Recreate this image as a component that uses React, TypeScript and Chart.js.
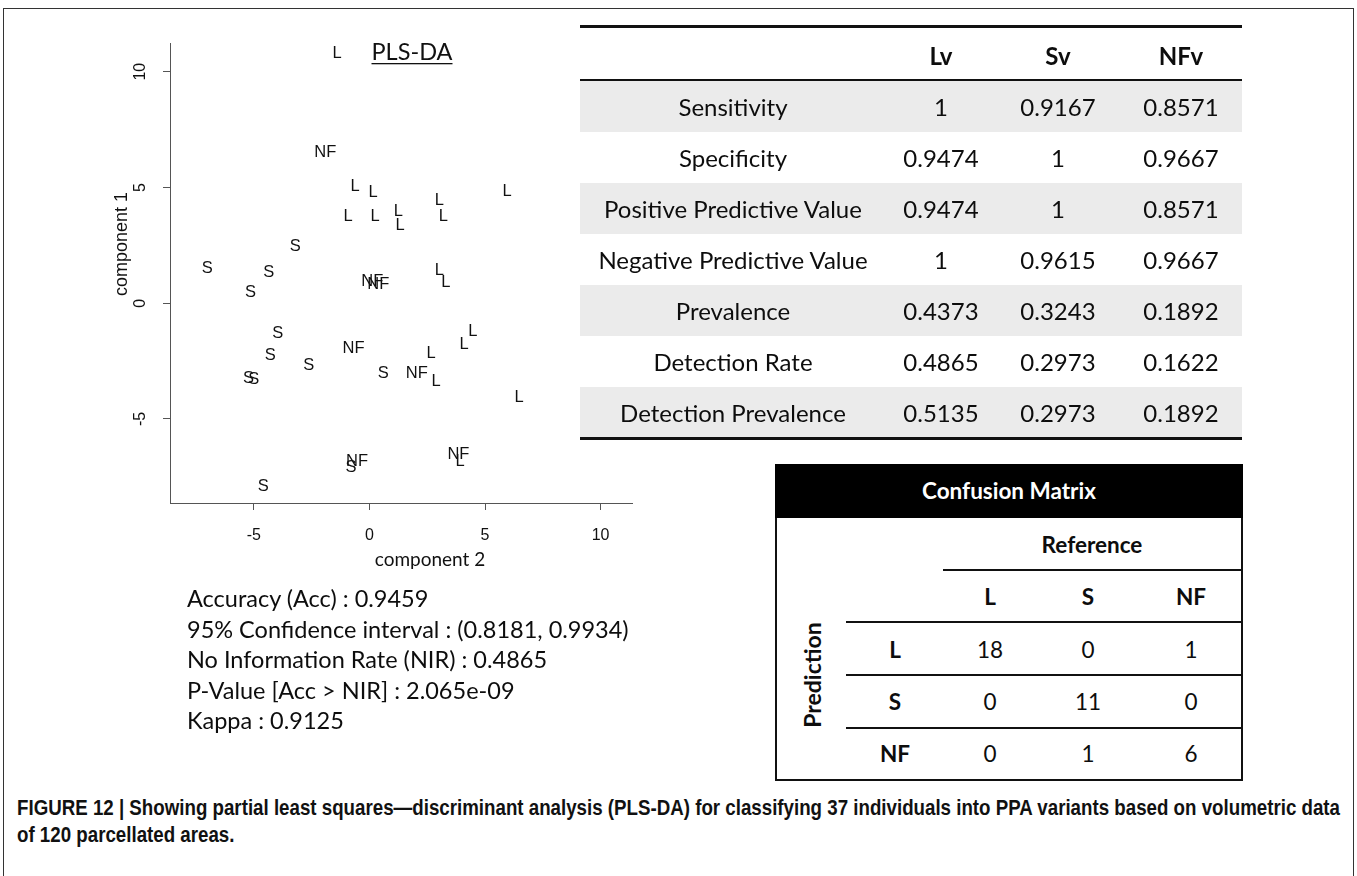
import React, { useEffect, useRef } from "react";
import { Chart, registerables } from "chart.js";

Chart.register(...registerables);

// ---------- scatter data (x = component 2, y = component 1) ----------
const lX = [-1.4, -0.62, 0.16, -0.92, 0.24, 1.25, 1.33, 3.02, 3.2, 5.96, 3.02, 3.31, 2.88, 2.67, 4.09, 4.47, 6.47, 3.92];
const lY = [10.78, 5.06, 4.77, 3.73, 3.73, 3.95, 3.38, 4.45, 3.76, 4.81, 1.43, 0.89, -3.38, -2.18, -1.8, -1.22, -4.07, -6.83];
const sX = [-3.21, -7.02, -4.36, -5.15, -3.97, -4.29, -2.63, -5.23, -5.01, 0.6, -0.8, -4.6];
const sY = [2.47, 1.51, 1.32, 0.46, -1.29, -2.27, -2.7, -3.23, -3.28, -3.02, -7.11, -7.93];
const nfX = [-1.91, 0.12, 0.38, -0.69, 2.05, -0.54, 3.85];
const nfY = [6.53, 0.92, 0.79, -1.97, -3.05, -6.83, -6.54];
const groupLabels = ["L", "S", "NF"];
const xTicks = [-5, 0, 5, 10];
const yTicks = [-5, 0, 5, 10];

// ---------- metrics table ----------
const metricNames = [
  "Sensitivity",
  "Specificity",
  "Positive Predictive Value",
  "Negative Predictive Value",
  "Prevalence",
  "Detection Rate",
  "Detection Prevalence",
];
const metricHeaders = ["Lv", "Sv", "NFv"];
const lvValues = ["1", "0.9474", "0.9474", "1", "0.4373", "0.4865", "0.5135"];
const svValues = ["0.9167", "1", "1", "0.9615", "0.3243", "0.2973", "0.2973"];
const nfvValues = ["0.8571", "0.9667", "0.8571", "0.9667", "0.1892", "0.1622", "0.1892"];

// ---------- confusion matrix ----------
const cmClasses = ["L", "S", "NF"];
const cmRowL = [18, 0, 1];
const cmRowS = [0, 11, 0];
const cmRowNF = [0, 1, 6];

// ---------- stats ----------
const statsLines = [
  "Accuracy (Acc) : 0.9459",
  "95% Confidence interval : (0.8181, 0.9934)",
  "No Information Rate (NIR) : 0.4865",
  "P-Value [Acc > NIR] : 2.065e-09",
  "Kappa : 0.9125",
];
const captionLines = [
  "FIGURE 12 | Showing partial least squares\u2014discriminant analysis (PLS-DA) for classifying 37 individuals into PPA variants based on volumetric data",
  "of 120 parcellated areas.",
];

const LATO = "Lato, 'Open Sans', sans-serif";
const ARIAL = "'Liberation Sans', Arial, sans-serif";

const overlayPlugin = {
  id: "overlay",
  afterDatasetsDraw(chart: any) {
    const ctx = chart.ctx;
    ctx.save();
    ctx.fillStyle = "#111";
    ctx.textAlign = "center";
    ctx.textBaseline = "middle";
    ctx.font = `16.5px ${ARIAL}`;
    chart.data.datasets.forEach((ds: any, i: number) => {
      const meta = chart.getDatasetMeta(i);
      meta.data.forEach((pt: any) => ctx.fillText(ds.label, pt.x, pt.y));
    });
    // rotated y tick labels
    const ys = chart.scales.y;
    const left = chart.chartArea.left;
    ctx.font = `16px ${ARIAL}`;
    yTicks.forEach((v) => {
      const py = ys.getPixelForValue(v);
      ctx.save();
      ctx.translate(left - 29, py);
      ctx.rotate(-Math.PI / 2);
      ctx.fillText(String(v), 0, 0);
      ctx.restore();
    });
    // y axis title
    ctx.save();
    ctx.font = `18px ${ARIAL}`;
    ctx.translate(left - 48, 244);
    ctx.rotate(-Math.PI / 2);
    ctx.fillText("component 1", 0, 0);
    ctx.restore();
    // x axis title
    ctx.font = `19px ${LATO}`;
    ctx.fillText("component 2", 430, 560);
    // plot title (underlined)
    ctx.font = `23.5px ${LATO}`;
    ctx.fillText("PLS-DA", 412, 52);
    const w = ctx.measureText("PLS-DA").width;
    ctx.fillRect(412 - w / 2, 63, w, 1.3);
    ctx.restore();
  },
};

const Txt = ({ x, y, text, size = 24, bold = false, align = "center", color = "#0d0d0d", family = LATO }: any) => {
  const w = 500;
  const left = align === "center" ? x - w / 2 : x;
  return (
    <div
      style={{
        position: "absolute",
        left,
        top: y - 20,
        width: w,
        height: 40,
        lineHeight: "40px",
        textAlign: align,
        fontFamily: family,
        fontSize: size,
        fontWeight: bold ? 700 : 400,
        color,
        whiteSpace: "nowrap",
      }}
    >
      {text}
    </div>
  );
};

const Rect = ({ x, y, w, h, c }: any) => (
  <div style={{ position: "absolute", left: x, top: y, width: w, height: h, background: c }} />
);

export default function App() {
  const canvasRef = useRef<HTMLCanvasElement>(null);
  const capRef = useRef<HTMLDivElement>(null);
  const cap1Ref = useRef<HTMLSpanElement>(null);

  useEffect(() => {
    const canvas = canvasRef.current;
    if (!canvas) return;
    const chart = new Chart(canvas, {
      type: "scatter",
      data: {
        datasets: [
          { label: groupLabels[0], data: lX.map((x, i) => ({ x, y: lY[i] })), pointRadius: 0, pointHoverRadius: 0 },
          { label: groupLabels[1], data: sX.map((x, i) => ({ x, y: sY[i] })), pointRadius: 0, pointHoverRadius: 0 },
          { label: groupLabels[2], data: nfX.map((x, i) => ({ x, y: nfY[i] })), pointRadius: 0, pointHoverRadius: 0 },
        ],
      },
      options: {
        responsive: false,
        animation: false,
        events: [],
        layout: { padding: { left: 110, top: 43, right: 68, bottom: 37 } },
        plugins: { legend: { display: false }, tooltip: { enabled: false }, title: { display: false } },
        scales: {
          x: {
            type: "linear",
            position: "bottom",
            min: -8.63,
            max: 11.36,
            afterBuildTicks: (s: any) => {
              s.ticks = xTicks.map((v) => ({ value: v }));
            },
            afterFit: (s: any) => {
              s.height = 40;
            },
            grid: { drawOnChartArea: false, drawTicks: true, tickLength: 7, color: "#555", lineWidth: 1 },
            border: { display: true, color: "#555", width: 1 },
            ticks: {
              font: { family: ARIAL, size: 16 },
              color: "#111",
              padding: 16,
              maxRotation: 0,
              autoSkip: false,
              callback: (v: any) => String(v),
            },
          },
          y: {
            type: "linear",
            position: "left",
            min: -8.63,
            max: 11.24,
            afterBuildTicks: (s: any) => {
              s.ticks = yTicks.map((v) => ({ value: v }));
            },
            afterFit: (s: any) => {
              s.width = 60;
            },
            grid: { drawOnChartArea: false, drawTicks: true, tickLength: 7, color: "#555", lineWidth: 1 },
            border: { display: true, color: "#555", width: 1 },
            ticks: { display: false },
          },
        },
      } as any,
      plugins: [overlayPlugin],
    });
    // fit caption width
    if (capRef.current && cap1Ref.current) {
      const w = cap1Ref.current.getBoundingClientRect().width;
      if (w > 0) capRef.current.style.transform = `scaleX(${1323 / w})`;
    }
    return () => chart.destroy();
  }, []);

  // metrics table geometry
  const rowTop = 81;
  const rowH = 51;
  const colX = [733, 941, 1058, 1181];
  const valueCols = [lvValues, svValues, nfvValues];

  const cmColX = [990, 1088, 1191];
  const cmRowY = [650, 702, 754];
  const cmRows = [cmRowL, cmRowS, cmRowNF];

  return (
    <div style={{ position: "absolute", left: 0, top: 0, width: 1357, height: 876, overflow: "hidden", background: "#fff" }}>
      {/* frame */}
      <div
        style={{
          position: "absolute",
          left: 3,
          top: 8,
          width: 1349,
          height: 900,
          borderLeft: "1px solid #333",
          borderTop: "1px solid #333",
          borderRight: "1px solid #333",
        }}
      />
      <canvas ref={canvasRef} width={700} height={580} style={{ position: "absolute", left: 0, top: 0, width: 700, height: 580 }} />

      {/* metrics table */}
      {metricNames.map((_, i) =>
        i % 2 === 0 ? <Rect key={"bg" + i} x={580} y={rowTop + i * rowH} w={662} h={rowH} c="#ebebeb" /> : null
      )}
      <Rect x={580} y={25} w={662} h={3} c="#111" />
      <Rect x={580} y={79} w={662} h={2} c="#111" />
      <Rect x={580} y={437} w={662} h={3} c="#111" />
      {metricHeaders.map((h, j) => (
        <Txt key={"h" + j} x={colX[j + 1]} y={56} text={h} bold />
      ))}
      {metricNames.map((n, i) => (
        <React.Fragment key={"r" + i}>
          <Txt x={colX[0]} y={rowTop + i * rowH + 25.5} text={n} />
          {valueCols.map((col, j) => (
            <Txt key={"v" + j} x={colX[j + 1]} y={rowTop + i * rowH + 25.5} text={col[i]} />
          ))}
        </React.Fragment>
      ))}

      {/* confusion matrix */}
      <div style={{ position: "absolute", left: 775, top: 464, width: 464, height: 313, border: "2px solid #111" }} />
      <Rect x={775} y={464} w={468} h={54} c="#000" />
      <Txt x={1009} y={491} text="Confusion Matrix" bold color="#fff" size={22.5} />
      <Txt x={1092} y={545} text="Reference" bold size={22.5} />
      <Rect x={943} y={569} w={300} h={2} c="#111" />
      {cmClasses.map((c, j) => (
        <Txt key={"ch" + j} x={cmColX[j]} y={597} text={c} bold size={22.5} />
      ))}
      <Rect x={846} y={621} w={397} h={2} c="#111" />
      <Rect x={846} y={674} w={397} h={2} c="#111" />
      <Rect x={846} y={727} w={397} h={2} c="#111" />
      {cmRows.map((row, i) => (
        <React.Fragment key={"cr" + i}>
          <Txt x={895} y={cmRowY[i]} text={cmClasses[i]} bold size={22.5} />
          {row.map((v, j) => (
            <Txt key={"cv" + j} x={cmColX[j]} y={cmRowY[i]} text={String(v)} size={22.5} />
          ))}
        </React.Fragment>
      ))}
      <div
        style={{
          position: "absolute",
          left: 812 - 100,
          top: 675 - 20,
          width: 200,
          height: 40,
          lineHeight: "40px",
          textAlign: "center",
          fontFamily: LATO,
          fontWeight: 700,
          fontSize: 23,
          color: "#0d0d0d",
          transform: "rotate(-90deg)",
        }}
      >
        Prediction
      </div>

      {/* stats text */}
      {statsLines.map((s, i) => (
        <Txt key={"s" + i} x={187} y={598 + i * 30.5} text={s} align="left" size={23.5} />
      ))}

      {/* caption */}
      <div
        ref={capRef}
        style={{
          position: "absolute",
          left: 17,
          top: 795,
          transformOrigin: "0 0",
          fontFamily: "'Liberation Sans Narrow', 'Liberation Sans', Arial, sans-serif",
          fontWeight: 700,
          fontSize: 21.5,
          lineHeight: "27px",
          color: "#111",
          whiteSpace: "nowrap",
        }}
      >
        <span ref={cap1Ref}>{captionLines[0]}</span>
        <br />
        <span>{captionLines[1]}</span>
      </div>
    </div>
  );
}
